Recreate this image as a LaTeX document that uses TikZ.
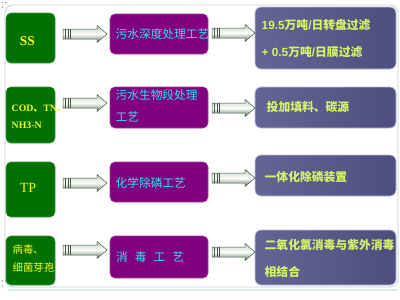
\documentclass[tikz,border=0pt]{standalone}
\usepackage{fontspec}
\setmainfont{Liberation Serif}
\newfontfamily\cjk{Noto Sans CJK SC}
\newfontfamily\lsans{Liberation Sans}
\definecolor{gfill}{RGB}{0,112,0}
\definecolor{gedge}{RGB}{60,150,60}
\definecolor{ytext}{RGB}{250,250,20}
\definecolor{pfill}{RGB}{128,0,128}
\definecolor{pedge}{RGB}{160,60,160}
\definecolor{ctext}{RGB}{40,232,240}
\definecolor{slight}{RGB}{100,100,150}
\definecolor{sdark}{RGB}{78,78,126}
\definecolor{sedge}{RGB}{190,190,215}
\definecolor{stext}{RGB}{214,244,104}
\definecolor{framec}{RGB}{200,208,216}
\definecolor{atop}{RGB}{190,208,190}
\definecolor{abot}{RGB}{90,122,90}
\definecolor{aedge}{RGB}{70,85,70}
\tikzset{
  gbox/.style={draw=gedge, line width=0.6pt, fill=gfill, rounded corners=5,
    minimum width=49, inner sep=0},
  pbox/.style={draw=pedge, line width=0.6pt, fill=pfill, rounded corners=5,
    minimum width=98, inner sep=0},
  sbox/.style={draw=sedge, line width=0.8pt, left color=slight, right color=sdark,
    rounded corners=6, minimum width=141, inner sep=0},
  gtext/.style={text=ytext, inner sep=0, align=left},
  ptext/.style={anchor=west, inner sep=0, align=left, text=ctext,
    font=\cjk\fontsize{11.7}{22}\selectfont},
  stext/.style={anchor=west, inner sep=0, align=left, text=stext,
    font=\cjk\bfseries\fontsize{11.8}{27}\selectfont},
}
\newcommand\barrow[3]{%
  \shade[top color=atop, bottom color=abot, middle color=white, draw=aedge, line width=0.5pt]
    (#1,#3-5) -- (#2-10,#3-5) -- (#2-10,#3-8.5) -- (#2,#3) -- (#2-10,#3+8.5)
    -- (#2-10,#3+5) -- (#1,#3+5) -- cycle;
  \draw[aedge, line width=0.5pt] (#1+2.5,#3-5) -- (#1+2.5,#3+5)
    (#1+5,#3-5) -- (#1+5,#3+5) (#1+7.5,#3-5) -- (#1+7.5,#3+5);
}
\begin{document}
\begin{tikzpicture}[x=1pt,y=-1pt]
\useasboundingbox[fill=white] (0,0) rectangle (400,300);
\draw[framec, line width=0.8pt, rounded corners=8] (5,5) rectangle (398,287);
\draw[color={rgb,255:red,215;green,240;blue,240}, line width=1.5pt] (8,290) -- (398,290);
\foreach \p in {(2.5,2.5),(6,2.5),(2.5,7),(2.5,281),(6,281),(2.5,286)}
  \fill[gray!70] \p +(-0.8,-0.8) rectangle +(0.8,0.8);

% green boxes
\node[gbox, minimum height=50] (g1) at (30.5,38) {};
\node[gbox, minimum height=56] (g2) at (30.5,115) {};
\node[gbox, minimum height=55] (g3) at (30.5,189.5) {};
\node[gbox, minimum height=49] (g4) at (30.5,260.5) {};
\node[gtext, font=\bfseries\fontsize{13.5}{16}\selectfont] (gt1) at (27.5,41.5) {SS};
\node[gtext, anchor=west, font=\bfseries\fontsize{9.8}{16.5}\selectfont] (gt2) at (11.5,117)
  {COD{\cjk 、}TN{\cjk 、}\\NH3-N};
\node[gtext, font=\fontsize{14}{16}\selectfont] (gt3) at (28,188) {TP};
\node[gtext, anchor=west, font=\cjk\fontsize{10.4}{18}\selectfont] (gt4) at (12.5,259)
  {病毒、\\细菌芽孢};

% purple boxes
\node[pbox, minimum height=40] (p1) at (159,34) {};
\node[pbox, minimum height=41] (p2) at (159,107.5) {};
\node[pbox, minimum height=40] (p3) at (159,182) {};
\node[pbox, minimum height=42] (p4) at (159,257) {};
\node[ptext] (pt1) at (115.5,34) {污水深度处理工艺};
\node[ptext] (pt2) at (115.5,106) {污水生物段处理\\工艺};
\node[ptext] (pt3) at (115.5,183) {化学除磷工艺};
\node[ptext] (pt4) at (116,257) {消\hspace{7pt}毒\hspace{7pt}工\hspace{7pt}艺};

% slate boxes
\node[sbox, minimum height=62] (s1) at (325.5,38) {};
\node[sbox, minimum height=41] (s2) at (325.5,107.5) {};
\node[sbox, minimum height=41] (s3) at (325.5,175.5) {};
\node[sbox, minimum height=55] (s4) at (325.5,257.5) {};
\node[stext] (st1) at (261.5,38.5)
  {{\lsans\bfseries 19.5}万吨{\lsans\bfseries /}日转盘过滤\\{\lsans\bfseries + 0.5}万吨{\lsans\bfseries /}日膜过滤};
\node[stext] (st2) at (266.5,107) {投加填料、碳源};
\node[stext] (st3) at (264.5,176.5) {一体化除磷装置};
\node[stext] (st4) at (264.5,258.5) {二氧化氯消毒与紫外消毒\\相结合};

% arrows
\barrow{63}{107}{34}
\barrow{63}{107}{103}
\barrow{63}{107}{183}
\barrow{63}{107}{250}
\barrow{212}{255}{33}
\barrow{212}{255}{108}
\barrow{212}{255}{178}
\barrow{212}{255}{252}
\end{tikzpicture}
\end{document}
